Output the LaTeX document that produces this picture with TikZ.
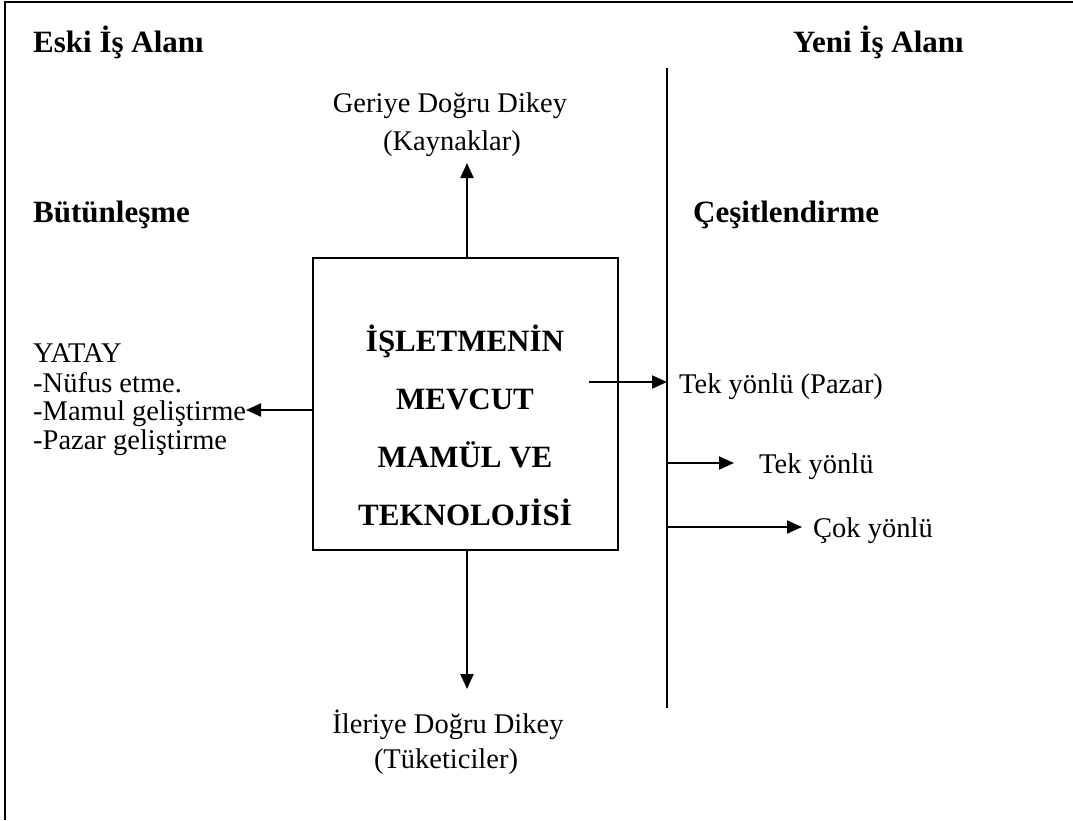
\documentclass[tikz,border=0pt]{standalone}
\usepackage{fontspec}
\setmainfont{Liberation Serif}
\usetikzlibrary{arrows.meta}
\begin{document}
\begin{tikzpicture}[x=1pt,y=-1pt,
  txt/.style={font=\fontsize{28.5}{33}\selectfont, inner sep=0pt},
  head/.style={font=\fontsize{31}{36}\selectfont\bfseries, inner sep=0pt},
  boxtxt/.style={font=\fontsize{31}{36}\selectfont\bfseries, inner sep=0pt},
  conn/.style={line width=2pt, -{Triangle[length=15pt,width=13pt]}},
  plain/.style={line width=2pt}]
\useasboundingbox (0,0) rectangle (1073,820);
% outer frame
\draw[line width=2pt] (5,820) -- (5,2) -- (1073,2);

% headings
\node[head, anchor=base west] (eski) at (33,52) {Eski İş Alanı};
\node[head, anchor=base west] (yeni) at (793,52) {Yeni İş Alanı};
\node[head, anchor=base west] (butun) at (33,222) {Bütünleşme};
\node[head, anchor=base west] (cesit) at (693,222) {Çeşitlendirme};

% dividing line
\coordinate (vtop) at (667,68);
\coordinate (vbot) at (667,708);
\draw[plain] (vtop) -- (vbot);

% central box
\node[draw, line width=2pt, minimum width=305pt, minimum height=292pt, inner sep=0pt] (box) at (465.5,404) {};
\node[boxtxt, anchor=base] (b1) at (465,351) {İŞLETMENİN};
\node[boxtxt, anchor=base] (b2) at (465,409) {MEVCUT};
\node[boxtxt, anchor=base] (b3) at (465,467) {MAMÜL VE};
\node[boxtxt, anchor=base] (b4) at (465,525) {TEKNOLOJİSİ};

% upward integration
\node[txt, anchor=base] (geri1) at (450,112) {Geriye Doğru Dikey};
\node[txt, anchor=base] (geri2) at (452,150) {(Kaynaklar)};
\coordinate (uptip) at (467,163);
\draw[conn] (box.north -| uptip) -- (uptip);

% downward integration
\node[txt, anchor=base] (ileri1) at (448,733) {İleriye Doğru Dikey};
\node[txt, anchor=base] (ileri2) at (446,768) {(Tüketiciler)};
\coordinate (downtip) at (467,689);
\draw[conn] (box.south -| downtip) -- (downtip);

% horizontal integration
\node[txt, anchor=base west] (yatay) at (33,362) {YATAY};
\node[txt, anchor=base west] (y1) at (33,392) {-Nüfus etme.};
\node[txt, anchor=base west] (y2) at (33,420) {-Mamul geliştirme};
\node[txt, anchor=base west] (y3) at (33,449) {-Pazar geliştirme};
\coordinate (lefttip) at (246,410);
\draw[conn] (box.west |- lefttip) -- (lefttip);

% diversification
\coordinate (d0) at (589,382);
\draw[conn] (d0) -- (vtop |- d0);
\node[txt, anchor=base west] (t1) at (679,393) {Tek yönlü (Pazar)};

\coordinate (d1) at (734,463);
\draw[conn] (vtop |- d1) -- (d1);
\node[txt, anchor=base west] (t2) at (759,473) {Tek yönlü};

\coordinate (d2) at (802,527);
\draw[conn] (vtop |- d2) -- (d2);
\node[txt, anchor=base west] (t3) at (813,537) {Çok yönlü};
\end{tikzpicture}
\end{document}
